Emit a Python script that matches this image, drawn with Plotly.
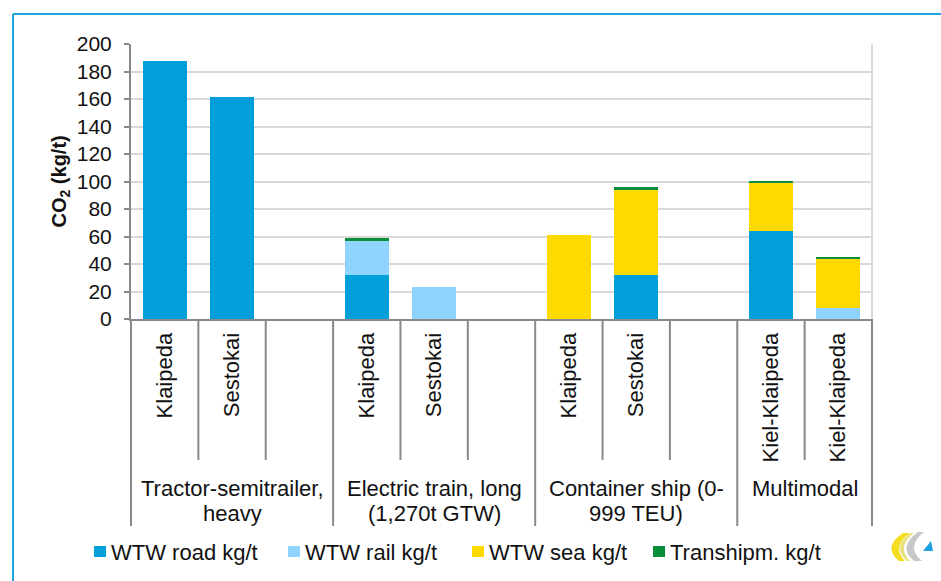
import plotly.graph_objects as go

# ---- data -------------------------------------------------------------
groups = ["Tractor-semitrailer,|heavy", "Electric train, long|(1,270t GTW)",
          "Container ship (0-|999 TEU)", "Multimodal"]
group_sizes = [3, 3, 3, 2]
sites = ["Klaipeda", "Sestokai", "",
         "Klaipeda", "Sestokai", "",
         "Klaipeda", "Sestokai", "",
         "Kiel-Klaipeda", "Kiel-Klaipeda"]

wtw_road = [187.4, 161.4, None, 32.0, None, None, None, 32.0, None, 64.0, None]
wtw_rail = [None, None, None, 25.0, 23.5, None, None, None, None, None, 8.0]
wtw_sea = [None, None, None, None, None, None, 61.0, 62.0, None, 35.0, 35.5]
transhipm = [None, None, None, 1.8, None, None, None, 1.9, None, 1.5, 1.7]

series_names = ["WTW road kg/t", "WTW rail kg/t", "WTW sea kg/t", "Transhipm. kg/t"]
series_values = [wtw_road, wtw_rail, wtw_sea, transhipm]
series_colors = ["#009FDA", "#8FD3FF", "#FFDA00", "#0B8E3A"]

y_ticks = list(range(0, 201, 20))

# ---- page geometry ----------------------------------------------------
W, H = 941, 581
L, R, T, B = 131, 872, 44, 319          # plot area in pixels
FONT = "Liberation Sans"
AXIS_GREY = "#898989"
GRID_GREY = "#D9D9D9"


def px(x):
    return (x - L) / (R - L)


def py(y):
    return (B - y) / (B - T)


n = len(sites)
xpos = list(range(n))
label_pos = [i for i, s in enumerate(sites) if s]
label_txt = [sites[i] for i in label_pos]

fig = go.Figure()
for name, vals, col in zip(series_names, series_values, series_colors):
    fig.add_trace(go.Bar(
        x=xpos, y=vals, name=name, marker=dict(color=col, line=dict(width=0)),
        showlegend=False, hovertemplate="%{y}<extra>" + name + "</extra>",
    ))

shapes = []
annotations = []

# outer frame (top and left edges in view)
shapes.append(dict(type="line", xref="paper", yref="paper",
                   x0=px(13), x1=px(W + 5), y0=py(14), y1=py(14),
                   line=dict(color="#1EA4DE", width=2)))
shapes.append(dict(type="line", xref="paper", yref="paper",
                   x0=px(13), x1=px(13), y0=py(14), y1=py(H + 5),
                   line=dict(color="#1EA4DE", width=2)))

# right border of the plot area
shapes.append(dict(type="line", xref="paper", yref="paper",
                   x0=1, x1=1, y0=0, y1=1, layer="below",
                   line=dict(color=GRID_GREY, width=2)))

# category dividers below the axis
group_edges = [0]
for s in group_sizes:
    group_edges.append(group_edges[-1] + s)
for k in range(n + 1):
    bottom = 526 if k in group_edges else 460
    shapes.append(dict(type="line", xref="paper", yref="paper",
                       x0=k / n, x1=k / n, y0=0, y1=py(bottom),
                       line=dict(color=AXIS_GREY, width=2)))

# group labels
for g, label in enumerate(groups):
    centre = (group_edges[g] + group_edges[g + 1]) / 2 / n
    for li, line in enumerate(label.split("|")):
        annotations.append(dict(
            xref="paper", yref="paper", x=centre, y=py(488 + 25 * li),
            text=line, showarrow=False, xanchor="center", yanchor="middle",
            font=dict(family=FONT, size=22, color="#111111")))

# y-axis title
annotations.append(dict(
    xref="paper", yref="paper", x=px(60), y=0.5, textangle=-90,
    text="<b>CO<sub>2</sub> (kg/t)</b>", showarrow=False,
    xanchor="center", yanchor="middle",
    font=dict(family=FONT, size=20, color="#111111")))

# legend row
legend_x = [94, 288, 472, 653]
for name, col, lx in zip(series_names, series_colors, legend_x):
    shapes.append(dict(type="rect", xref="paper", yref="paper",
                       x0=px(lx), x1=px(lx + 12), y0=py(546), y1=py(557),
                       fillcolor=col, line=dict(width=0)))
    annotations.append(dict(
        xref="paper", yref="paper", x=px(lx + 15), y=py(552),
        text=name, showarrow=False, xanchor="left", yanchor="middle",
        font=dict(family=FONT, size=22, color="#111111")))


# small corner emblem
def path(points, close=True):
    d = "M" + " L".join(f"{px(x):.5f},{py(y):.5f}" for x, y in points)
    return d + (" Z" if close else "")


def curve(a, ctrl, b, b2, ctrl2, a2):
    return (f"M{px(a[0]):.5f},{py(a[1]):.5f} "
            f"Q{px(ctrl[0]):.5f},{py(ctrl[1]):.5f} {px(b[0]):.5f},{py(b[1]):.5f} "
            f"L{px(b2[0]):.5f},{py(b2[1]):.5f} "
            f"Q{px(ctrl2[0]):.5f},{py(ctrl2[1]):.5f} {px(a2[0]):.5f},{py(a2[1]):.5f} Z")


shapes.append(dict(type="path", xref="paper", yref="paper",
                   path=curve((903, 533), (882, 547), (899, 561),
                              (905, 561), (891, 547), (910, 533)),
                   fillcolor="#F2DE1E", line=dict(width=0)))
shapes.append(dict(type="path", xref="paper", yref="paper",
                   path=curve((911, 533), (891, 547), (907, 561),
                              (910, 561), (896, 547), (914, 533)),
                   fillcolor="#E8E07A", line=dict(width=0)))
shapes.append(dict(type="path", xref="paper", yref="paper",
                   path=curve((918, 532), (897, 547), (914, 561),
                              (922, 561), (905, 547), (924, 532)),
                   fillcolor="#C8C8C8", line=dict(width=0)))
shapes.append(dict(type="path", xref="paper", yref="paper",
                   path=path([(923, 551), (931, 541), (933, 551)]),
                   fillcolor="#1E9FE0", line=dict(width=0)))

fig.update_layout(
    width=W, height=H, barmode="stack", bargap=0.35,
    margin=dict(l=L, r=W - R, t=T, b=H - B, pad=0),
    paper_bgcolor="white", plot_bgcolor="white",
    font=dict(family=FONT, size=20, color="#111111"),
    shapes=shapes, annotations=annotations, showlegend=False,
    xaxis=dict(range=[-0.5, n - 0.5], tickmode="array", tickvals=label_pos,
               ticktext=label_txt, tickangle=-90, ticks="", showgrid=False,
               zeroline=False, showline=True, linecolor=AXIS_GREY, linewidth=2,
               ticklabelstandoff=3, tickfont=dict(family=FONT, size=22),
               fixedrange=True),
    yaxis=dict(range=[0, 200], tickmode="array", tickvals=y_ticks,
               showgrid=True, gridcolor=GRID_GREY, gridwidth=2, zeroline=False,
               showline=True, linecolor=AXIS_GREY, linewidth=2,
               ticks="outside", ticklen=5, tickcolor=AXIS_GREY, tickwidth=1.5,
               ticklabelstandoff=8, tickfont=dict(family=FONT, size=21),
               fixedrange=True),
)

fig.write_html("out.html")
